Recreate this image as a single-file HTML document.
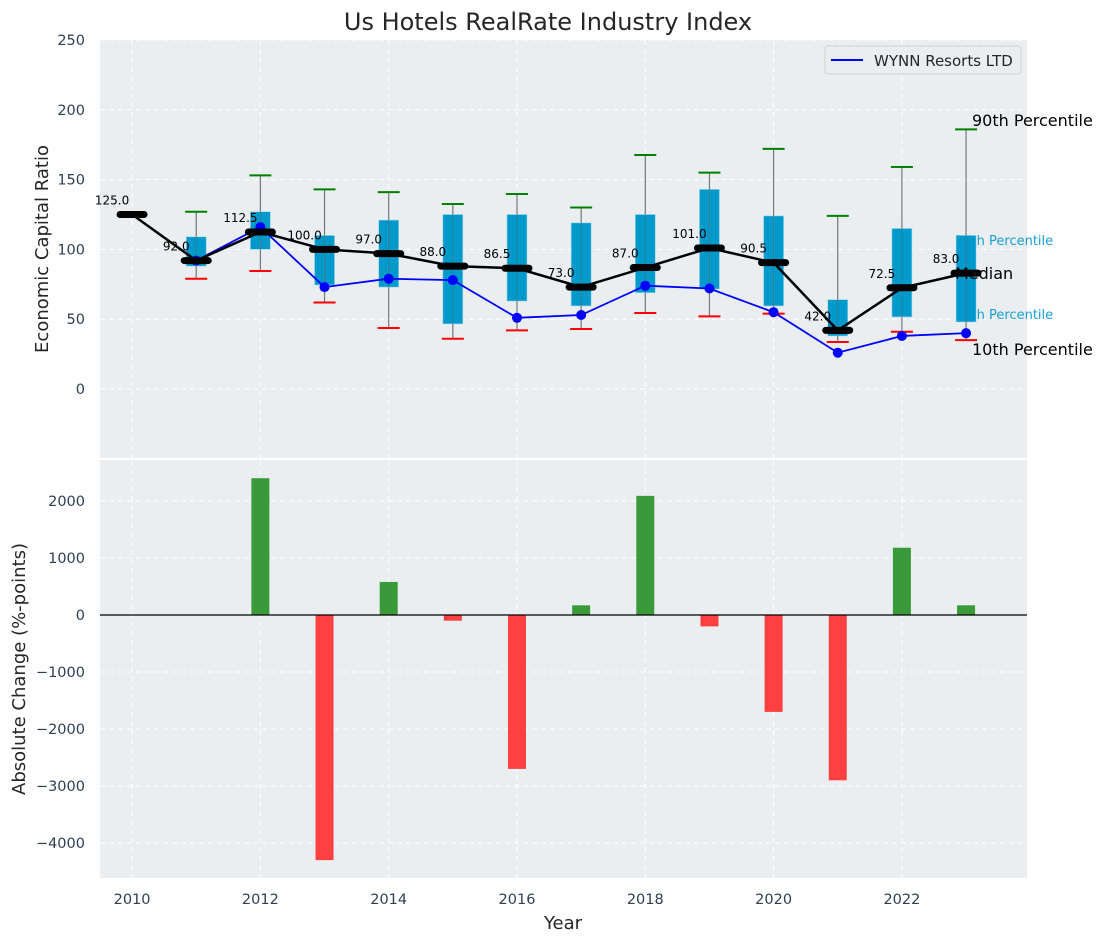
<!DOCTYPE html>
<html><head><meta charset="utf-8"><style>
body{margin:0;background:#fff;}
svg{display:block;font-family:"DejaVu Sans","Liberation Sans",sans-serif;}
</style></head><body>
<svg id="chart" width="1107" height="942">
<rect x="100" y="40" width="927" height="418" fill="#eaeef0"/>
<rect x="100" y="460" width="927" height="418" fill="#eaeef0"/>
<g id="grid"></g><g id="under"></g><g id="marks"></g><g id="over"></g><g id="top"></g><g id="axes"></g>
<text x="548" y="30" font-size="24" text-anchor="middle" fill="#262626">Us Hotels RealRate Industry Index</text>
<text transform="translate(48,249) rotate(-90)" font-size="18" text-anchor="middle" fill="#262626">Economic Capital Ratio</text>
<text transform="translate(25,669) rotate(-90)" font-size="18" text-anchor="middle" fill="#262626">Absolute Change (%-points)</text>
<text x="563" y="929" font-size="18" text-anchor="middle" fill="#262626">Year</text>
<g>
<rect x="825" y="46" width="196" height="28" rx="3" fill="#eaeef0" stroke="#cfd3d6"/>
<line x1="831" y1="60" x2="863" y2="60" stroke="#0000ff" stroke-width="2"/>
<text x="874" y="66" font-size="15" fill="#262626">WYNN Resorts LTD</text>
</g>
</svg>
<script>
const years=[2010,2011,2012,2013,2014,2015,2016,2017,2018,2019,2020,2021,2022,2023];
const medians=[125,92,112.5,100,97,88,86.5,73,87,101,90.5,42,72.5,83];
const p90=[null,127,153,143,141,132.5,139.7,130,167.6,155,172,124,159,186];
const p10=[null,79,84.5,62,43.7,36,42,43,54.4,52,54,33.7,41,35];
const q3=[null,109,127,110,121,125,125,119,125,143,124,64,115,110];
const q1=[null,88,100,74.5,73,46.6,63,59.5,69,71.6,59.5,38,51.6,48];
const wynn=[null,92,116,73,79,78,51,53,74,72,55,26,38,40];
const changes=[null,null,2400,-4300,580,-100,-2700,170,2090,-200,-1700,-2900,1180,170];
const topTicks=[0,50,100,150,200,250];
const botTicks=[-4000,-3000,-2000,-1000,0,1000,2000];
const xTicks=[2010,2012,2014,2016,2018,2020,2022];

const NS="http://www.w3.org/2000/svg";
const X=v=>100+(v-2009.5)*(927/14.45);
const Y1=v=>389-v*1.396;
const Y2=v=>615-v*0.057;
function mk(parent,tag,at){const e=document.createElementNS(NS,tag);for(const k in at)e.setAttribute(k,at[k]);document.getElementById(parent).appendChild(e);return e;}

topTicks.forEach(t=>{
 const g=mk('grid','line',{x1:100,x2:1027,y1:Y1(t),y2:Y1(t),stroke:'#fff','stroke-dasharray':'5,4','stroke-width':1});
 
 
 const l=mk('axes','text',{x:85,y:Y1(t)+5,'font-size':14.5,'text-anchor':'end',fill:'#2e3f55'});l.textContent=t;
 
 
});
botTicks.forEach(t=>{
 const g=mk('grid','line',{x1:100,x2:1027,y1:Y2(t),y2:Y2(t),stroke:'#fff','stroke-dasharray':'5,4','stroke-width':1});
 
 
 const l=mk('axes','text',{x:85,y:Y2(t)+5,'font-size':14.5,'text-anchor':'end',fill:'#2e3f55'});l.textContent=t<0?'\u2212'+(-t):t;
 
 
});
xTicks.forEach(t=>{
 [[40,458],[460,878]].forEach(r=>{const g=mk('grid','line',{x1:X(t),x2:X(t),y1:r[0],y2:r[1],stroke:'#fff','stroke-dasharray':'5,4','stroke-width':1});
 
 });
 const l=mk('axes','text',{x:X(t),y:904,'font-size':14.5,'text-anchor':'middle',fill:'#2e3f55'});l.textContent=t;
 
 
});

[['90th Percentile',972,126,16,'#000','under'],['75th Percentile',955,245,13,'#1a9fcf','under'],['Median',955,279,16,'#000','over'],['25th Percentile',955,319,13,'#1a9fcf','under'],['10th Percentile',972,355,16,'#000','under']].forEach(a=>{
 const t=mk(a[5],'text',{x:a[1],y:a[2],'font-size':a[3],fill:a[4]});t.textContent=a[0];
 
 
});

years.forEach((yr,i)=>{
 const x=X(yr);
 if(p90[i]!=null){
  const w=mk('marks','line',{x1:x,x2:x,y1:Y1(p90[i]),y2:Y1(p10[i]),stroke:'#888','stroke-width':1.2});
  
  
  const b=mk('marks','rect',{x:x-10,y:Y1(q3[i]),width:20,height:Y1(q1[i])-Y1(q3[i]),fill:'#0099cc',stroke:'#9fd8ea','stroke-width':0.6});
  
  
  const w2=mk('marks','line',{x1:x,x2:x,y1:Y1(p90[i]),y2:Y1(p10[i]),stroke:'#666','stroke-width':0.8,'stroke-opacity':0.6});
  
  
  const g=mk('marks','line',{x1:x-11,x2:x+11,y1:Y1(p90[i]),y2:Y1(p90[i]),stroke:'#008000','stroke-width':2});
  
  
  const r=mk('marks','line',{x1:x-11,x2:x+11,y1:Y1(p10[i]),y2:Y1(p10[i]),stroke:'#ff0000','stroke-width':2});
  
  
 }
 if(changes[i]!=null){
  const v=changes[i];
  const bar=mk('marks','rect',{x:x-9,y:Math.min(Y2(v),Y2(0)),width:18,height:Math.abs(Y2(v)-Y2(0)),fill:v>=0?'#3a9a3a':'#ff4040'});
  
  
 }
});
const zl=mk('marks','line',{x1:100,x2:1027,y1:Y2(0),y2:Y2(0),stroke:'#000','stroke-width':1.2});



let pts=[];years.forEach((yr,i)=>{if(wynn[i]!=null)pts.push(X(yr)+','+Y1(wynn[i]));});
const wl=mk('top','polyline',{points:pts.join(' '),fill:'none',stroke:'#0000ff','stroke-width':1.8});


years.forEach((yr,i)=>{if(wynn[i]==null)return;
 const c=mk('top','circle',{cx:X(yr),cy:Y1(wynn[i]),r:5,fill:'#0000ff'});
 
 
});
const ml=mk('top','polyline',{points:years.map((yr,i)=>X(yr)+','+Y1(medians[i])).join(' '),fill:'none',stroke:'#000','stroke-width':2.5});


years.forEach((yr,i)=>{
 const m=mk('top','line',{x1:X(yr)-12,x2:X(yr)+12,y1:Y1(medians[i]),y2:Y1(medians[i]),stroke:'#000','stroke-width':7,'stroke-linecap':'round'});
 
 
 const t=mk('top','text',{x:X(yr)-20,y:Y1(medians[i])-10,'font-size':12,'text-anchor':'middle',fill:'#000'});
 t.textContent=medians[i].toFixed(1);
 
 
});
</script>
</body></html>
